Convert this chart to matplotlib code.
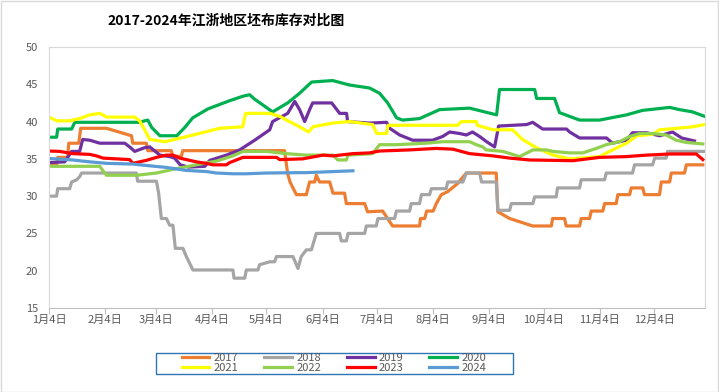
import matplotlib
matplotlib.use("Agg")
import matplotlib.pyplot as plt
from matplotlib.patches import Rectangle

plt.rcParams["font.family"] = ["Noto Sans CJK SC", "DejaVu Sans"]

# day offset from Jan 4 -> inventory (days)
tick_days = [0, 31, 59, 90, 120, 151, 181, 212, 243, 273, 304, 334]
tick_labels = ["1月4日", "2月4日", "3月4日", "4月4日", "5月4日", "6月4日",
               "7月4日", "8月4日", "9月4日", "10月4日", "11月4日", "12月4日"]

d2017 = [0, 4.2, 4.8, 10.3, 10.9, 16.4, 17.5, 31.7, 45.5, 46.2, 53.7, 54.5, 67.5, 68.2,
         73.0, 73.8, 130, 131.7, 133, 136.5, 142, 143.8, 146.6, 147.5, 149.3, 154.9,
         156.7, 163.1, 164.1, 174.2, 175.8, 184.1, 189.6, 204.5, 205, 207.3, 208.4,
         212, 213.7, 216.5, 220, 225.5, 230.3, 246.8, 247.7, 254.2, 266.9, 277.2,
         277.9, 284.5, 285.4, 292.8, 293.7, 298.3, 299.2, 305.6, 306.6, 313, 313.9,
         320.4, 321.3, 327.7, 328.6, 336.9, 337.9, 342.5, 343.4, 350.7, 351.7, 360.8]
v2017 = [34.2, 34.2, 35.2, 35.2, 37.1, 37.1, 39.1, 39.1, 38.1, 37.1, 37.1, 36.1, 36.1, 35.4,
         35.3, 36.1, 36.1, 33.0, 31.9, 30.2, 30.2, 31.9, 31.9, 32.8, 31.9, 31.9,
         30.4, 30.4, 29.0, 29.0, 27.9, 28.0, 26.0, 26.0, 27.0, 27.0, 28.0,
         28.0, 29.0, 30.2, 30.6, 31.7, 33.1, 33.1, 27.9, 27.0, 26.0, 26.0,
         27.0, 27.0, 26.0, 26.0, 27.0, 27.0, 28.0, 28.0, 29.0, 29.0, 30.2,
         30.2, 31.1, 31.1, 30.2, 30.2, 31.9, 31.9, 33.1, 33.1, 34.2, 34.2]

d2018 = [0, 4.2, 4.8, 11.4, 12.5, 15.3, 16.9, 18.0, 48.2, 48.9, 59.3, 60.5, 62.0, 64.8,
         66.6, 68.4, 69.7, 73.9, 75.8, 79.4, 101.5, 102.1, 108.0, 108.9, 115.3, 116.2,
         121.8, 124.5, 125.5, 134.6, 137.4, 139.2, 142, 144.8, 147.5, 160.4, 161.3,
         164.1, 165, 174.2, 175.1, 180.6, 181.5, 190.7, 191.7, 199.0, 199.9, 204.5,
         205.5, 210, 211, 219.2, 220, 228.4, 230.3, 237.6, 238.7, 246.8, 247.7, 254.2,
         255.1, 267, 268, 279.9, 280.6, 292.8, 293.7, 306.6, 307.5, 322, 323.1, 333.1,
         334.2, 340.6, 341.3, 361.8]
v2018 = [30.0, 30.0, 31.0, 31.0, 31.9, 32.2, 32.6, 33.1, 33.1, 32.0, 32.0, 30.4, 27.0, 27.0,
         26.1, 26.1, 23.0, 23.0, 21.9, 20.1, 20.1, 19.0, 19.0, 20.1, 20.1, 20.8,
         21.2, 21.2, 21.9, 21.9, 20.3, 21.9, 22.8, 22.8, 25.0, 25.0, 24.0,
         24.0, 25.0, 25.0, 26.0, 26.0, 27.0, 27.0, 28.0, 28.0, 29.0, 29.0,
         30.2, 30.2, 31.0, 31.0, 31.9, 31.9, 33.1, 33.1, 31.9, 31.9, 28.1, 28.1,
         29.0, 29.0, 29.9, 29.9, 31.1, 31.1, 32.2, 32.2, 33.1, 33.1, 34.2, 34.2,
         35.1, 35.1, 36.0, 36.0]

d2019 = [0, 8.7, 12.5, 16.9, 18.6, 22.5, 28, 41.8, 44.5, 47.3, 52.8, 55.6, 61.2, 66.6,
         69.3, 72.4, 77, 86, 88.7, 97.9, 105.2, 113.5, 121.8, 123.4, 131.7, 135.6,
         138.3, 141.1, 143.8, 145.5, 156, 160.4, 164.2, 164.8, 176.9, 186.3, 188,
         193.5, 200.7, 211.7, 217.2, 221.1, 226.6, 230.3, 233.7, 237.6, 241.5, 245.9,
         248.1, 263.6, 266.9, 272.4, 285.6, 287.3, 292.8, 307.7, 310.9, 318.7, 322,
         329.7, 336.9, 344.1, 349.1, 356.2]
v2019 = [34.5, 34.6, 36.0, 36.0, 37.6, 37.5, 37.1, 37.1, 36.6, 36.0, 36.5, 36.6, 35.5, 35.3,
         35.1, 34.2, 33.9, 34.0, 34.8, 35.5, 36.2, 37.5, 38.9, 40.0, 41.1, 42.7,
         41.6, 40.0, 41.6, 42.5, 42.5, 41.1, 41.1, 40.0, 39.8, 39.9, 39.1,
         38.2, 37.5, 37.5, 38.0, 38.6, 38.4, 38.2, 38.6, 38.0, 37.3, 36.6,
         39.4, 39.6, 39.9, 39.0, 39.0, 38.6, 37.8, 37.8, 37.1, 37.5, 38.5,
         38.5, 38.1, 38.6, 37.8, 37.4]

d2020 = [0, 4.2, 4.8, 12.5, 14.2, 50, 52.8, 54.5, 56.7, 61.2, 70.5, 74.9, 79.3, 87.7,
         99.7, 107, 110.7, 113.5, 123.4, 131.7, 138.3, 144.9, 156.5, 165.9, 176.9,
         182.4, 186.9, 191.8, 195.1, 204.5, 215.5, 232.1, 247, 248.6, 268, 269.1, 279,
         281.7, 292.8, 303.8, 318.7, 327.5, 342.5, 348, 355.1, 361.8]
v2020 = [37.9, 37.9, 39.0, 39.0, 39.9, 39.9, 40.1, 40.2, 39.2, 38.1, 38.1, 39.2, 40.5, 41.7,
         42.8, 43.4, 43.6, 43.0, 41.3, 42.5, 43.8, 45.3, 45.5, 44.9, 44.5,
         43.8, 42.5, 40.5, 40.2, 40.4, 41.6, 41.8, 40.9, 44.3, 44.3, 43.1, 43.1,
         41.2, 40.2, 40.2, 40.9, 41.5, 41.9, 41.6, 41.3, 40.7]

d2021 = [0, 4.2, 11.4, 16.9, 22.5, 28, 31.8, 47.3, 50, 52.8, 55.6, 64, 69.3, 77.9, 86.1,
         94.2, 106.9, 108.5, 121.8, 127.3, 131.1, 138.3, 143.3, 145.6, 156.5, 165.9,
         178.6, 180.8, 186.3, 187, 225.5, 227.5, 235.8, 236.3, 245, 255.8, 261.3,
         268.9, 278.1, 287.3, 303.8, 311, 318.7, 324.5, 333.2, 336.9, 346.3, 355.3,
         361.8]
v2021 = [40.6, 40.1, 40.1, 40.4, 40.9, 41.1, 40.6, 40.6, 40.1, 38.9, 37.6, 37.3, 37.6, 38.1,
         38.6, 39.1, 39.3, 41.1, 41.1, 40.7, 40.2, 39.3, 38.6, 39.3, 39.8, 40.0,
         39.6, 38.4, 38.4, 39.5, 39.5, 40.0, 40.0, 39.5, 38.9, 38.9, 37.6,
         36.5, 35.5, 35.0, 35.3, 36.2, 37.1, 38.1, 38.3, 38.9, 39.1, 39.3, 39.6]

d2022 = [0, 28, 31.7, 48.2, 59.3, 70.5, 81.3, 92.4, 101.5, 107, 119.9, 131, 142, 156.7,
         159.4, 164.1, 165, 178.6, 182.4, 191.7, 208.2, 217.4, 232.1, 235.8, 239.3,
         241.3, 250.5, 259.7, 267, 274.4, 278.1, 287.3, 294.6, 302, 307.5, 314.8,
         320.4, 325.8, 333.2, 340.6, 346.1, 351.7, 360.8]
v2022 = [34.0, 34.0, 32.8, 32.8, 33.1, 33.7, 34.2, 34.7, 35.4, 36.0, 36.0, 35.7, 35.5, 35.5,
         34.85, 34.85, 35.5, 35.7, 36.9, 36.9, 37.1, 37.3, 37.3, 36.9, 36.6,
         36.2, 36.0, 35.3, 36.2, 36.2, 36.0, 35.8, 35.8, 36.4, 36.9, 37.3,
         38.0, 38.4, 38.4, 38.2, 37.5, 37.2, 37.0]

d2023 = [0, 5.9, 13.1, 22.5, 26.2, 29.8, 44.5, 46.3, 50, 53.7, 59.3, 64.8, 68.4, 72.1,
         75.8, 81.3, 86.8, 90.5, 97.9, 99.7, 103.4, 107, 125.5, 127.3, 140, 151.2,
         156.7, 167.7, 176.9, 182.4, 199, 213.7, 222.9, 232.1, 245, 254.2, 265.2,
         278.1, 289.1, 303.8, 318.5, 329.6, 342.5, 357.2, 360.8]
v2023 = [36.05, 36.0, 35.7, 35.6, 35.4, 35.1, 34.9, 34.4, 34.6, 34.8, 35.2, 35.5, 35.5, 35.1,
         34.9, 34.6, 34.4, 34.2, 34.2, 34.5, 34.85, 35.2, 35.2, 34.9, 35.0, 35.5,
         35.4, 35.7, 35.8, 36.05, 36.2, 36.4, 36.3, 35.7, 35.4, 35.1, 34.85,
         34.8, 34.75, 35.2, 35.3, 35.5, 35.65, 35.65, 34.9]

d2024 = [0, 13.1, 22.5, 31.7, 46.3, 50, 64.8, 75.8, 86.8, 92.4, 101.5, 108.9, 119.9,
         138.3, 142, 167.7]
v2024 = [35.05, 34.85, 34.6, 34.4, 34.3, 34.2, 33.85, 33.45, 33.3, 33.1, 33.0, 33.0, 33.1,
         33.15, 33.15, 33.4]

series = [
    ("2017", d2017, v2017, "#ED7D31"),
    ("2018", d2018, v2018, "#A5A5A5"),
    ("2019", d2019, v2019, "#7030A0"),
    ("2020", d2020, v2020, "#00B050"),
    ("2021", d2021, v2021, "#FFFF00"),
    ("2022", d2022, v2022, "#92D050"),
    ("2023", d2023, v2023, "#FF0000"),
    ("2024", d2024, v2024, "#5B9BD5"),
]

fig = plt.figure(figsize=(7.19, 3.92), dpi=100)
ax = fig.add_axes([49 / 719, 1 - 308 / 392, 656 / 719, 261 / 392])

lines = {}
for name, d, v, c in series:
    lines[name], = ax.plot(d, v, color=c, linewidth=2.3, label=name,
                           solid_joinstyle="round")

ax.set_xlim(0, 362)
ax.set_ylim(15, 50)
ax.set_yticks(range(15, 51, 5))
ax.set_xticks(tick_days)
ax.set_xticklabels(tick_labels)
ax.tick_params(axis="y", length=0, labelsize=8, colors="#595959", pad=8)
ax.tick_params(axis="x", length=4, color="#BFBFBF", labelsize=8, colors="#595959", pad=1)
for s in ax.spines.values():
    s.set_color("#D9D9D9")
ax.spines["bottom"].set_color("#BFBFBF")

fig.text(226 / 719, 1 - 20 / 392, "2017-2024年江浙地区坯布库存对比图",
         ha="center", va="center", fontsize=10, fontweight="bold", color="#000000")

# legend: frame drawn separately so the side padding can be wider than the top/bottom
order = ["2017", "2021", "2018", "2022", "2019", "2023", "2020", "2024"]
leg = fig.legend([lines[k] for k in order], order, ncol=4,
                 loc="center", bbox_to_anchor=(334 / 719, 1 - 363 / 392),
                 fontsize=8, frameon=False, handlelength=2.5,
                 columnspacing=2.3, labelspacing=0.05, borderpad=0.1,
                 handletextpad=0.4)
for t in leg.get_texts():
    t.set_color("#595959")
fig.patches.append(Rectangle((156 / 719, 1 - 374 / 392), 357 / 719, 21.5 / 392,
                             transform=fig.transFigure, fill=False,
                             edgecolor="#2E75B6", linewidth=1))

fig.patches.append(Rectangle((0.001, 0.001), 0.997, 0.997, transform=fig.transFigure,
                             fill=False, edgecolor="#D9D9D9", linewidth=1))

fig.savefig("out.png", dpi=100)
